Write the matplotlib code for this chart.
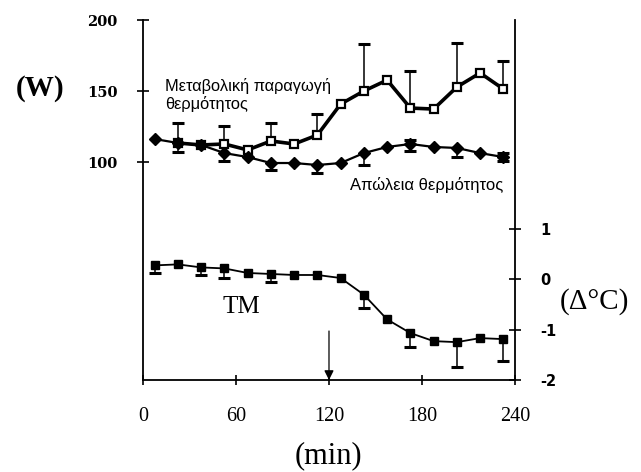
import matplotlib
matplotlib.use("Agg")
import matplotlib.pyplot as plt

# time points (min)
times = [7.5, 22.5, 37.5, 52.5, 67.5, 82.5, 97.5, 112.5,
         127.5, 142.5, 157.5, 172.5, 187.5, 202.5, 217.5, 232.5]

# heat loss (W), filled diamonds
loss = [116.2, 113.4, 112.0, 106.3, 103.5, 99.3, 99.3, 97.9,
        99.3, 106.3, 110.6, 112.7, 110.6, 109.9, 106.3, 103.5]
loss_err_lo = [0, 6.3, 0, 5.6, 0, 5.0, 0, 5.6, 0, 8.5, 0, 5.0, 0, 6.3, 0, 3.0]
loss_err_hi = [0, 0, 0, 0, 0, 0, 0, 0, 0, 0, 0, 3.0, 0, 0, 0, 3.0]

# metabolic heat production (W), open squares (starts at 2nd point)
met_times = times[1:]
met = [113.4, 112.0, 112.7, 108.5, 114.8, 112.7, 119.0,
       140.8, 150.0, 157.7, 138.0, 137.3, 152.8, 162.7, 151.4]
met_err_hi = [14.0, 0, 12.7, 0, 12.7, 0, 15.0, 0, 33.0, 0, 26.0, 0, 31.0, 0, 20.0]

# TM change (deg C), right axis
tm = [0.27, 0.29, 0.23, 0.21, 0.12, 0.10, 0.08, 0.08,
      0.02, -0.31, -0.80, -1.07, -1.23, -1.25, -1.17, -1.19]
tm_err_lo = [0.16, 0, 0.16, 0.18, 0, 0.16, 0, 0, 0, 0.27, 0, 0.27, 0, 0.49, 0, 0.43]

xticks = [0, 60, 120, 180, 240]
wticks = [100, 150, 200]
cticks = [-2, -1, 0, 1]


def one_sided_errors(axis, xs, ys, errs, sign):
    # only draw the whiskers that exist, with a cap at the far end
    for x, y, e in zip(xs, ys, errs):
        if e <= 0:
            continue
        end = y + sign * e
        axis.plot([x, x], [y, end], color="black", lw=1.1, zorder=2)
        axis.plot([x], [end], marker="_", ms=8, mew=2.2, color="black", zorder=2)


fig = plt.figure(figsize=(6.41, 4.72), dpi=100)
ax = fig.add_axes([0.2231, 0.1949, 0.5803, 0.7627])
ax2 = ax.twinx()

ax.set_xlim(0, 240)
ax.set_ylim(-53.5, 200)
ax2.set_ylim(-2, 5.13)

for s in ["top", "right"]:
    ax.spines[s].set_visible(False)
for s in ["top", "left", "bottom"]:
    ax2.spines[s].set_visible(False)
for sp in [ax.spines["left"], ax.spines["bottom"], ax2.spines["right"]]:
    sp.set_linewidth(1.3)

# heat production
one_sided_errors(ax, met_times, met, met_err_hi, 1)
ax.plot(met_times, met, color="black", lw=2.6, marker="s", ms=6,
        mfc="white", mec="black", mew=1.6, zorder=3)
# heat loss
one_sided_errors(ax, times, loss, loss_err_lo, -1)
one_sided_errors(ax, times, loss, loss_err_hi, 1)
ax.plot(times, loss, color="black", lw=1.6, marker="D", ms=6,
        mfc="black", mec="black", zorder=4)
# TM
one_sided_errors(ax2, times, tm, tm_err_lo, -1)
ax2.plot(times, tm, color="black", lw=1.3, marker="s", ms=6,
         mfc="black", mec="black", zorder=4)

ax.set_xticks(xticks)
ax.set_xticklabels([str(t) for t in xticks], family="Liberation Serif", fontsize=14.5)
ax.set_yticks(wticks)
ax.set_yticklabels([str(t) for t in wticks], family="DejaVu Serif",
                   fontweight="bold", fontsize=10.5)
ax2.set_yticks(cticks)
ax2.set_yticklabels([str(t) for t in cticks], family="DejaVu Sans",
                    fontweight="bold", fontsize=10.5)
ax.tick_params(axis="x", direction="inout", length=7, width=1.2, pad=16)
ax.tick_params(axis="y", direction="inout", length=9, width=1.2, pad=14)
ax2.tick_params(axis="y", direction="inout", length=9, width=1.2, pad=14)

# arrow at 120 min
ax.annotate("", xy=(120, -53.5), xytext=(120, -19),
            arrowprops=dict(arrowstyle="-|>", color="black", lw=0.9,
                            mutation_scale=14, shrinkA=0, shrinkB=0))

ax.text(165 / 641, 1 - 95 / 472, "Μεταβολική παραγωγή\nθερμότητος",
        transform=fig.transFigure, family="Liberation Sans", fontsize=11.8,
        ha="left", va="center", linespacing=1.1)
ax.text(503 / 641, 1 - 185 / 472, "Απώλεια θερμότητος",
        transform=fig.transFigure, family="Liberation Sans", fontsize=12,
        ha="right", va="center")
fig.text(241 / 641, 1 - 307 / 472, "TM", family="Liberation Serif",
         fontsize=18, ha="center", va="center")
fig.text(40 / 641, 1 - 88 / 472, "(W)", family="Liberation Serif",
         fontweight="bold", fontsize=21, ha="center", va="center")
fig.text(594 / 641, 1 - 302 / 472, "(Δ°C)", family="Liberation Serif",
         fontsize=21, ha="center", va="center")
fig.text(328 / 641, 1 - 456 / 472, "(min)", family="Liberation Serif",
         fontsize=22, ha="center", va="center")

fig.savefig("out.png", dpi=100)
